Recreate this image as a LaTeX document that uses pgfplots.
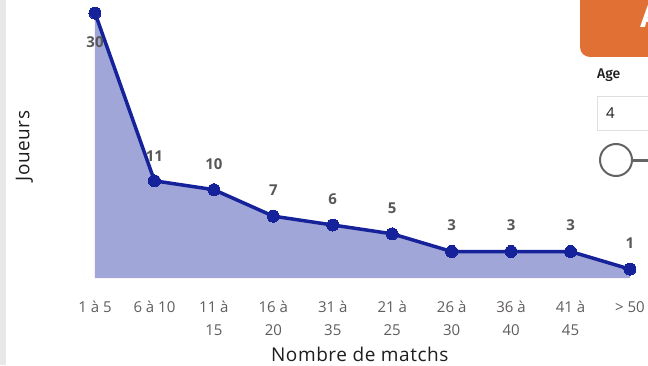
\documentclass[border=0pt]{standalone}
\usepackage{pgfplots}
\usepackage{pgfplotstable}
\pgfplotsset{compat=1.18}
\usepackage{fontspec}
\setmainfont{Open Sans}
\newfontfamily\titlefont{Open Sans}[LetterSpace=3]
\newfontfamily\slicerfont{Fira Sans}[UprightFont=* Medium]

\definecolor{linecol}{RGB}{22,34,154}
\definecolor{fillcol}{RGB}{160,166,215}
\definecolor{ticklab}{RGB}{96,94,92}
\definecolor{datalab}{RGB}{88,88,88}
\definecolor{titlecol}{RGB}{30,30,30}
\definecolor{orangebox}{RGB}{224,112,52}
\definecolor{slidergray}{RGB}{100,100,100}

% players per bracket of matches played; off = vertical offset of the value label
\pgfplotstableread{
x y off
0 30 -29
1 11 25
2 10 26
3 7 26
4 6 26
5 5 26
6 3 26
7 3 26
8 3 26
9 1 26
}\joueurs

\begin{document}
\begin{tikzpicture}
\useasboundingbox (0pt,0pt) rectangle (648pt,365pt);
\fill[white] (0pt,0pt) rectangle (648pt,365pt);
\fill[gray!18] (0pt,0pt) rectangle (6pt,365pt);

\begin{axis}[
  at={(95pt,87pt)}, anchor=south west,
  scale only axis, width=535pt, height=265pt,
  xmin=0, xmax=9, ymin=0, ymax=30,
  clip=false,
  /pgf/number format/assume math mode=true,
  axis line style={draw=none},
  major tick length=0pt,
  ytick=\empty,
  xtick={0,...,9},
  xticklabels={1 à 5, 6 à 10, {11 à\\15}, {16 à\\20}, {31 à\\35}, {21 à\\25}, {26 à\\30}, {36 à\\40}, {41 à\\45}, > 50},
  xticklabel style={align=center, anchor=north, inner sep=0pt, yshift=-23pt,
    font=\fontsize{15}{23}\selectfont, text=ticklab},
  xlabel={Nombre de matchs},
  xlabel style={at={(axis description cs:0.495,-0.287)}, anchor=center,
    font=\titlefont\fontsize{19}{21}\selectfont, text=titlecol},
  ylabel={Joueurs},
  ylabel style={at={(axis description cs:-0.132,0.498)}, anchor=center, rotate=0,
    font=\titlefont\fontsize{19}{21}\selectfont, text=titlecol},
]
\addplot[fill=fillcol, draw=none] table[x=x, y=y] {\joueurs} \closedcycle;
\addplot[linecol, line width=3.5pt, line join=round,
  mark=*, mark size=6pt, mark options={fill=linecol, draw=linecol, line width=0pt},
  visualization depends on={\thisrow{off} \as \off},
  nodes near coords,
  every node near coord/.append style={anchor=center, yshift=\off pt,
    font=\fontsize{15}{18}\selectfont\bfseries, text=datalab},
] table[x=x, y=y] {\joueurs};
\end{axis}

% slicer panel on the right
\fill[orangebox, rounded corners=10pt] (580pt,308pt) rectangle (670pt,380pt);
\node[anchor=west, text=white, font=\fontsize{30}{30}\selectfont\bfseries, inner sep=0pt] at (640pt,348pt) {A};
\node[anchor=west, text=titlecol, font=\slicerfont\fontsize{14}{18}\selectfont, inner sep=0pt] at (597pt,290pt) {Age};
\draw[fill=white, draw=gray!25, line width=1pt] (597pt,235pt) rectangle (670pt,269pt);
\node[anchor=west, text=titlecol, font=\fontsize{15}{18}\selectfont, inner sep=0pt] at (606pt,252pt) {4};
\draw[slidergray, line width=3pt] (632pt,205pt) -- (660pt,205pt);
\draw[slidergray, line width=2pt, fill=white] (616pt,205pt) circle (16pt);
\end{tikzpicture}
\end{document}
